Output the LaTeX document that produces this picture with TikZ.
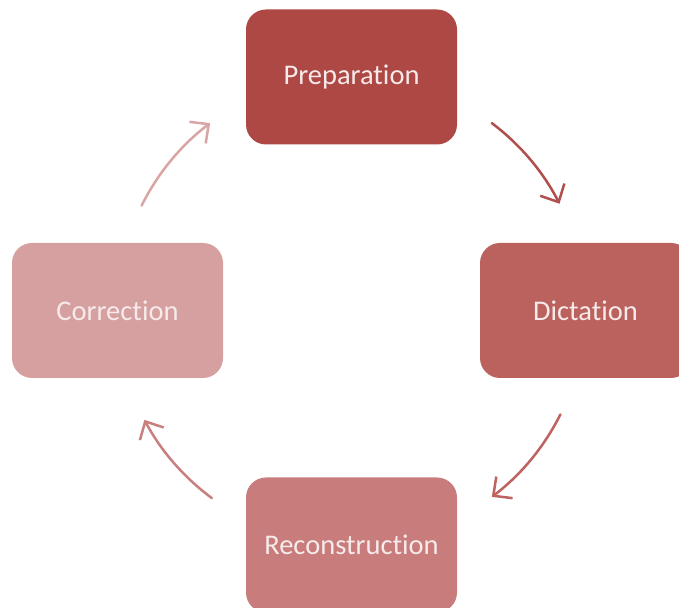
\documentclass[tikz,border=0pt]{standalone}
\usepackage{fontspec}
\setmainfont{Carlito}[Ligatures={NoCommon}]
\usetikzlibrary{arrows.meta}
\definecolor{cPrep}{RGB}{173,72,69}
\definecolor{cDict}{RGB}{187,98,95}
\definecolor{cReco}{RGB}{200,125,124}
\definecolor{cCorr}{RGB}{214,160,160}
\definecolor{aPrep}{RGB}{176,80,77}
\definecolor{aDict}{RGB}{190,99,96}
\definecolor{aReco}{RGB}{201,127,126}
\definecolor{aCorr}{RGB}{217,165,164}
\definecolor{txt}{RGB}{247,234,234}
\tikzset{
  stage/.style={rounded corners=20pt, minimum width=211pt, minimum height=135pt,
    inner sep=0pt, text=txt, font=\fontsize{28.5}{33}\selectfont},
  cyc/.style={line width=2.5pt, line cap=round,
    -{Straight Barb[length=14pt,width=27pt,line width=2.5pt]}}
}
\begin{document}
\begin{tikzpicture}[x=1pt,y=1pt]
\useasboundingbox (0,0) rectangle (679,607);
\clip (0,0) rectangle (679,607);
\fill[white] (0,0) rectangle (679,607);
% stages of the cycle
\node[stage, fill=cPrep] (prep) at (351.5,530) {Preparation};
\node[stage, fill=cDict] (dict) at (585.5,296.5) {Dictation};
\node[stage, fill=cReco] (reco) at (351.5,62) {Reconstruction};
\node[stage, fill=cCorr] (corr) at (117.5,296.5) {Correction};
% centre of the cycle and arc start points
\coordinate (c) at (351,297);
\path (c) ++(53:234) coordinate (s1);
\path (c) ++(-26.5:234) coordinate (s2);
\path (c) ++(-126.5:234) coordinate (s3);
\path (c) ++(153.5:234) coordinate (s4);
% curved arrows between the stages
\draw[cyc, aPrep] (s1) arc[start angle=53, end angle=27, radius=234];
\draw[cyc, aDict] (s2) arc[start angle=-26.5, end angle=-53, radius=234];
\draw[cyc, aReco] (s3) arc[start angle=-126.5, end angle=-152, radius=234];
\draw[cyc, aCorr] (s4) arc[start angle=153.5, end angle=127, radius=234];
\end{tikzpicture}
\end{document}
